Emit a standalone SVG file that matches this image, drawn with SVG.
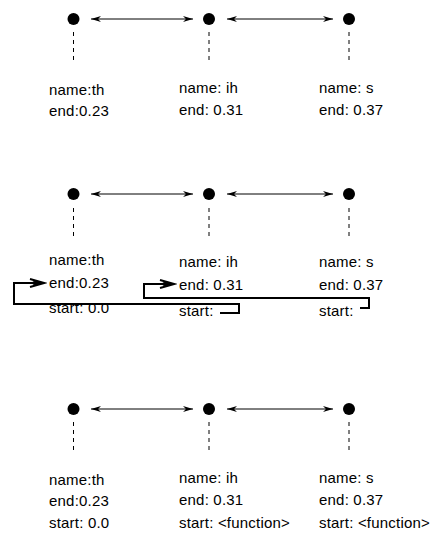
<svg xmlns="http://www.w3.org/2000/svg" width="446" height="546" viewBox="0 0 446 546">
<defs>
<marker id="thin" viewBox="0 0 10 6" refX="10" refY="3" markerWidth="10" markerHeight="6" markerUnits="userSpaceOnUse" orient="auto-start-reverse">
<path d="M0,0 L10,3 L0,6 L3,3 Z" fill="#000"/>
</marker>
<marker id="thick" viewBox="0 0 18 10" refX="15" refY="5" markerWidth="18" markerHeight="10" markerUnits="userSpaceOnUse" orient="auto">
<path d="M1,1 L15,5 L1,9 M4,2.5 L13,5 L4,7.5" fill="none" stroke="#000" stroke-width="2"/>
</marker>
<style>
.dot{fill:#000}
.dash{stroke:#000;stroke-width:1;stroke-dasharray:4 4}
.link{stroke:#000;stroke-width:1;fill:none;marker-start:url(#thin);marker-end:url(#thin)}
.ptr{stroke:#000;stroke-width:2;fill:none;marker-end:url(#thick)}
text{font-family:"Liberation Sans",Arial,sans-serif;font-size:15px;letter-spacing:0.2px;fill:#000}
</style>
</defs>
<rect width="446" height="546" fill="#fff"/>
<g id="connectors">
<line class="link" x1="91" y1="19" x2="193" y2="19"/>
<line class="link" x1="227" y1="19" x2="333" y2="19"/>
<line class="link" x1="91" y1="194" x2="193" y2="194"/>
<line class="link" x1="227" y1="194" x2="333" y2="194"/>
<line class="link" x1="91" y1="409" x2="193" y2="409"/>
<line class="link" x1="227" y1="409" x2="333" y2="409"/>
<path class="ptr" d="M220,313 H239 V304 H14 V283 H44"/>
<path class="ptr" d="M360,308 H369 V298 H144 V284 H174"/>
</g>
<g id="r1-th">
<circle class="dot" cx="73.5" cy="19" r="6"/>
<line class="dash" x1="73.5" y1="32" x2="73.5" y2="62"/>
<text x="49" y="95">name:th</text>
<text x="49" y="116">end:0.23</text>
</g>
<g id="r1-ih">
<circle class="dot" cx="209" cy="19" r="6"/>
<line class="dash" x1="209" y1="32" x2="209" y2="62"/>
<text x="179" y="93">name: ih</text>
<text x="179" y="115">end: 0.31</text>
</g>
<g id="r1-s">
<circle class="dot" cx="349" cy="19" r="6"/>
<line class="dash" x1="349" y1="32" x2="349" y2="62"/>
<text x="319" y="93">name: s</text>
<text x="319" y="115">end: 0.37</text>
</g>
<g id="r2-th">
<circle class="dot" cx="73.5" cy="194" r="6"/>
<line class="dash" x1="73.5" y1="208" x2="73.5" y2="238"/>
<text x="49" y="265">name:th</text>
<text x="49" y="288">end:0.23</text>
<text x="49" y="313">start: 0.0</text>
</g>
<g id="r2-ih">
<circle class="dot" cx="209" cy="194" r="6"/>
<line class="dash" x1="209" y1="208" x2="209" y2="238"/>
<text x="179" y="267">name: ih</text>
<text x="179" y="290">end: 0.31</text>
<text x="179" y="316">start:</text>
</g>
<g id="r2-s">
<circle class="dot" cx="349" cy="194" r="6"/>
<line class="dash" x1="349" y1="208" x2="349" y2="238"/>
<text x="319" y="267">name: s</text>
<text x="319" y="290">end: 0.37</text>
<text x="319" y="316">start:</text>
</g>
<g id="r3-th">
<circle class="dot" cx="73.5" cy="409" r="6"/>
<line class="dash" x1="73.5" y1="422" x2="73.5" y2="452"/>
<text x="49" y="485">name:th</text>
<text x="49" y="506">end:0.23</text>
<text x="49" y="528">start: 0.0</text>
</g>
<g id="r3-ih">
<circle class="dot" cx="209" cy="409" r="6"/>
<line class="dash" x1="209" y1="422" x2="209" y2="452"/>
<text x="179" y="483">name: ih</text>
<text x="179" y="505">end: 0.31</text>
<text x="179" y="528">start: &lt;function&gt;</text>
</g>
<g id="r3-s">
<circle class="dot" cx="349" cy="409" r="6"/>
<line class="dash" x1="349" y1="422" x2="349" y2="452"/>
<text x="319" y="483">name: s</text>
<text x="319" y="505">end: 0.37</text>
<text x="319" y="528">start: &lt;function&gt;</text>
</g>
</svg>
